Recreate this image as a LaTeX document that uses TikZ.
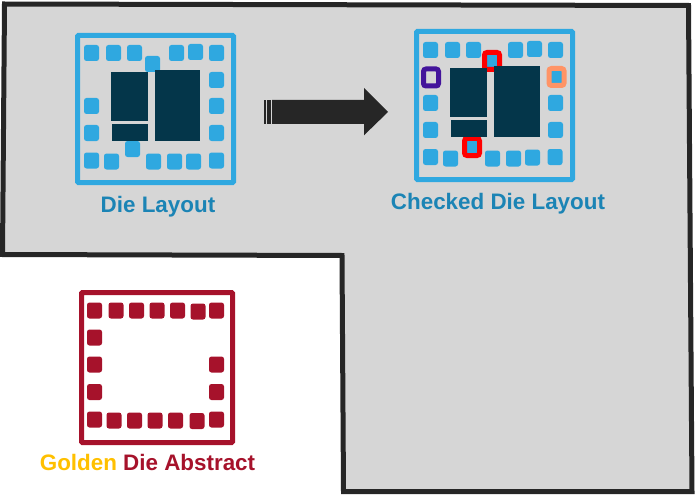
\documentclass[tikz,border=0pt]{standalone}
\usepackage{fontspec}
\setmainfont{Liberation Sans}
\definecolor{padblue}{HTML}{2FA8E0}
\definecolor{coreblue}{HTML}{04364A}
\definecolor{textblue}{HTML}{1B84B5}
\definecolor{goldred}{HTML}{A6122B}
\definecolor{goldtext}{HTML}{FFC000}
\definecolor{greybg}{HTML}{D6D6D6}
\definecolor{outline}{HTML}{262626}
\definecolor{markpurple}{HTML}{43149B}
\definecolor{markorange}{HTML}{FF9466}
\tikzset{
  pad/.style={shape=rectangle,fill=padblue,rounded corners=2.5pt,minimum width=15pt,minimum height=16pt,inner sep=0pt},
  goldpad/.style={pad,fill=goldred},
  frame/.style={shape=rectangle,draw=padblue,line width=5pt,rounded corners=1pt,inner sep=0pt},
  core/.style={shape=rectangle,fill=coreblue,inner sep=0pt},
  checkmark/.style={shape=rectangle,line width=5pt,rounded corners=2.5pt,minimum width=15pt,minimum height=17pt,inner sep=0pt},
  title/.style={anchor=base,font=\fontsize{22.4}{24}\selectfont\bfseries,inner sep=0pt}
}
\begin{document}
\begin{tikzpicture}[x=1pt,y=-1pt]
\useasboundingbox (0,0) rectangle (697,495);
% outline
\draw[fill=greybg,draw=outline,line width=5pt,line join=miter]
  (4.5,4) -- (688.5,5.5) -- (692,491.5) -- (343.5,491.5) -- (342,255.5) -- (2.5,254.5) -- cycle;
% die layout
\node[frame,minimum width=156pt,minimum height=147pt] (frame1) at (155.5,109) {};
\node[pad] (a1) at (91.5,53) {};
\node[pad] (a2) at (113.5,53) {};
\node[pad] (a3) at (134.5,53) {};
\node[pad] (a4) at (152.5,64) {};
\node[pad] (a5) at (176.5,53) {};
\node[pad] (a6) at (195.5,52) {};
\node[pad] (a7) at (216.5,53) {};
\node[pad] (a8) at (216.5,80) {};
\node[pad] (a9) at (216.5,106) {};
\node[pad] (a10) at (216.5,133) {};
\node[pad] (a11) at (216.5,160.5) {};
\node[pad] (a12) at (193.5,161.5) {};
\node[pad] (a13) at (174.5,161.5) {};
\node[pad] (a14) at (153.5,161.5) {};
\node[pad] (a15) at (132.5,149) {};
\node[pad] (a16) at (111.5,161.5) {};
\node[pad] (a17) at (91.5,160.5) {};
\node[pad] (a18) at (91.5,133) {};
\node[pad] (a19) at (91.5,106) {};
\node[core,minimum width=37pt,minimum height=48.7pt] (a20) at (129.5,96.3) {};
\node[core,minimum width=36pt,minimum height=17pt] (a21) at (130,132.5) {};
\node[core,minimum width=45pt,minimum height=71pt] (a22) at (177.5,105.5) {};
\node[title,text=textblue] (t1) at (158,212) {Die Layout};
% arrow
\fill[outline] (272,100) -- (364,100) -- (364,88) -- (388,112) -- (364,135.3) -- (364,124) -- (272,124) -- cycle;
\fill[outline] (264,100) rectangle (265.5,124);
\fill[outline] (267,100) rectangle (271,124);
% checked die layout
\node[frame,minimum width=156pt,minimum height=148pt] (frame2) at (494.5,105.5) {};
\node[pad] (b1) at (430.5,50) {};
\node[pad] (b2) at (452.5,50) {};
\node[pad] (b3) at (473.5,50) {};
\node[pad] (b5) at (515.5,50) {};
\node[pad] (b6) at (534.5,49) {};
\node[pad] (b7) at (555.5,50) {};
\node[pad] (b9) at (555.5,103) {};
\node[pad] (b10) at (555.5,130) {};
\node[pad] (b11) at (555,157) {};
\node[pad] (b12) at (532.5,157.5) {};
\node[pad] (b13) at (513.5,158.5) {};
\node[pad] (b14) at (492.5,158.5) {};
\node[pad] (b16) at (450.5,158.5) {};
\node[pad] (b17) at (430.5,157) {};
\node[pad] (b18) at (430.5,130) {};
\node[pad] (b19) at (430.5,103) {};
\node[checkmark,draw=red,fill=padblue] (b4) at (492,61) {};
\node[checkmark,draw=red,fill=padblue] (b15) at (472,147) {};
\node[checkmark,draw=markorange,fill=padblue] (b8) at (556.5,77) {};
\node[checkmark,draw=markpurple,fill=greybg] (b20) at (431,77.5) {};
\node[core,minimum width=37pt,minimum height=48.7pt] (b21) at (468.5,92.3) {};
\node[core,minimum width=36pt,minimum height=17pt] (b22) at (469,128.5) {};
\node[core,minimum width=46pt,minimum height=71pt] (b23) at (517,101.5) {};
\node[title,text=textblue] (t2) at (498,209) {Checked Die Layout};
% golden die abstract
\node[frame,draw=goldred,minimum width=151pt,minimum height=150pt] (frame3) at (157,367.5) {};
\node[goldpad] (c1) at (94.5,310.5) {};
\node[goldpad] (c2) at (116,310.5) {};
\node[goldpad] (c3) at (136.5,310.5) {};
\node[goldpad] (c4) at (157,310.5) {};
\node[goldpad] (c5) at (177.5,310.5) {};
\node[goldpad] (c6) at (198,311.5) {};
\node[goldpad] (c7) at (216.5,310.5) {};
\node[goldpad] (c8) at (216.5,364.5) {};
\node[goldpad] (c9) at (216.5,392) {};
\node[goldpad] (c10) at (216.5,419.5) {};
\node[goldpad] (c11) at (197,421) {};
\node[goldpad] (c12) at (175.5,420.5) {};
\node[goldpad] (c13) at (155,420.5) {};
\node[goldpad] (c14) at (134.5,420.5) {};
\node[goldpad] (c15) at (114,420.5) {};
\node[goldpad] (c16) at (94.5,419.5) {};
\node[goldpad] (c17) at (94.5,392) {};
\node[goldpad] (c18) at (94.5,364.5) {};
\node[goldpad] (c19) at (94.5,337.5) {};
\node[title,text=goldred] (t3) at (147.5,470) {\textcolor{goldtext}{Golden} Die Abstract};
\end{tikzpicture}
\end{document}
